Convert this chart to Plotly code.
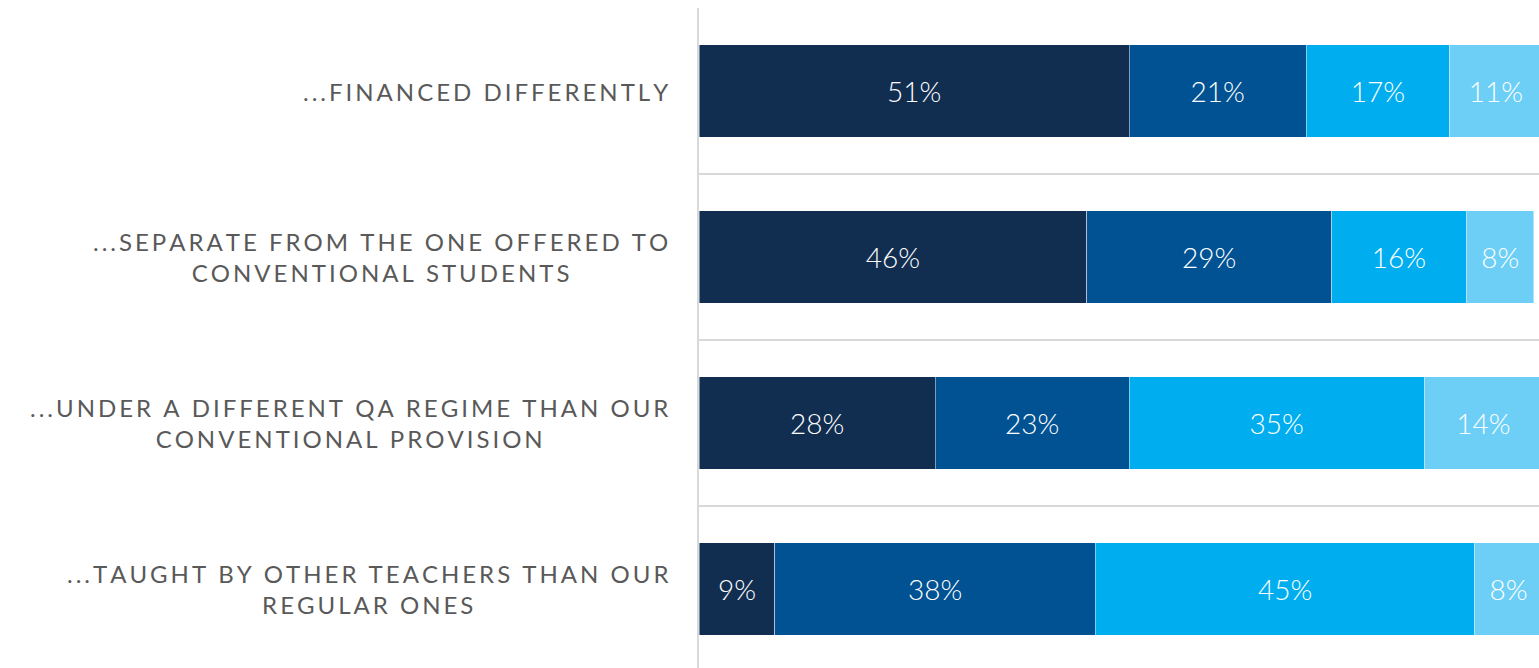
import plotly.graph_objects as go

categories = [
    "...FINANCED DIFFERENTLY",
    "...SEPARATE FROM THE ONE OFFERED TO<br>CONVENTIONAL STUDENTS",
    "...UNDER A DIFFERENT QA REGIME THAN OUR<br>CONVENTIONAL PROVISION",
    "...TAUGHT BY OTHER TEACHERS THAN OUR<br>REGULAR ONES",
]
series_names = ["Series 1", "Series 2", "Series 3", "Series 4"]
series_values = [
    [51, 46, 28, 9],
    [21, 29, 23, 38],
    [17, 16, 35, 45],
    [11, 8, 14, 8],
]
colors = ["#112E51", "#005293", "#00AEEF", "#6DCFF6"]

positions = list(range(len(categories)))


def spaced(s):
    return "<br>".join("\u2009".join(list(ln)) for ln in s.split("<br>"))


fig = go.Figure()
for name, vals, col in zip(series_names, series_values, colors):
    fig.add_trace(go.Bar(
        y=positions, x=vals, name=name, orientation="h",
        marker=dict(color=col, line=dict(color="rgba(255,255,255,0.45)", width=1)),
        width=0.56,
        text=[f"{v}%" for v in vals],
        textposition="inside", insidetextanchor="middle", textangle=0,
        textfont=dict(family="Lato", size=28, color="white", weight=300),
        hoverinfo="skip",
    ))

for p, c in zip(positions, categories):
    fig.add_annotation(
        x=0, xref="paper", xanchor="right", xshift=-29,
        y=p, yref="y", yanchor="middle",
        text=spaced(c), showarrow=False, align="center",
        font=dict(family="Lato", size=24, color="#595959"),
    )

fig.update_layout(
    barmode="stack",
    width=1539, height=668,
    margin=dict(l=699, r=0, t=8, b=0),
    plot_bgcolor="white", paper_bgcolor="white",
    showlegend=False,
    xaxis=dict(range=[0, 99.6], showgrid=False, zeroline=False, showticklabels=False,
               showline=False, fixedrange=True),
    yaxis=dict(range=[-0.5 + 660 / 166, -0.5], showgrid=False, zeroline=False,
               showticklabels=False, showline=True, linecolor="#D9D9D9", linewidth=2,
               mirror=False, fixedrange=True,
               minor=dict(tickvals=[-0.5, 0.5, 1.5, 2.5, 3.5], showgrid=True,
                          gridcolor="#D9D9D9", gridwidth=2, ticks="")),
)

fig.write_html(
    "out.html",
    config={"displayModeBar": False},
    post_script="document.body.style.margin='0';document.body.style.overflow='hidden';",
)
